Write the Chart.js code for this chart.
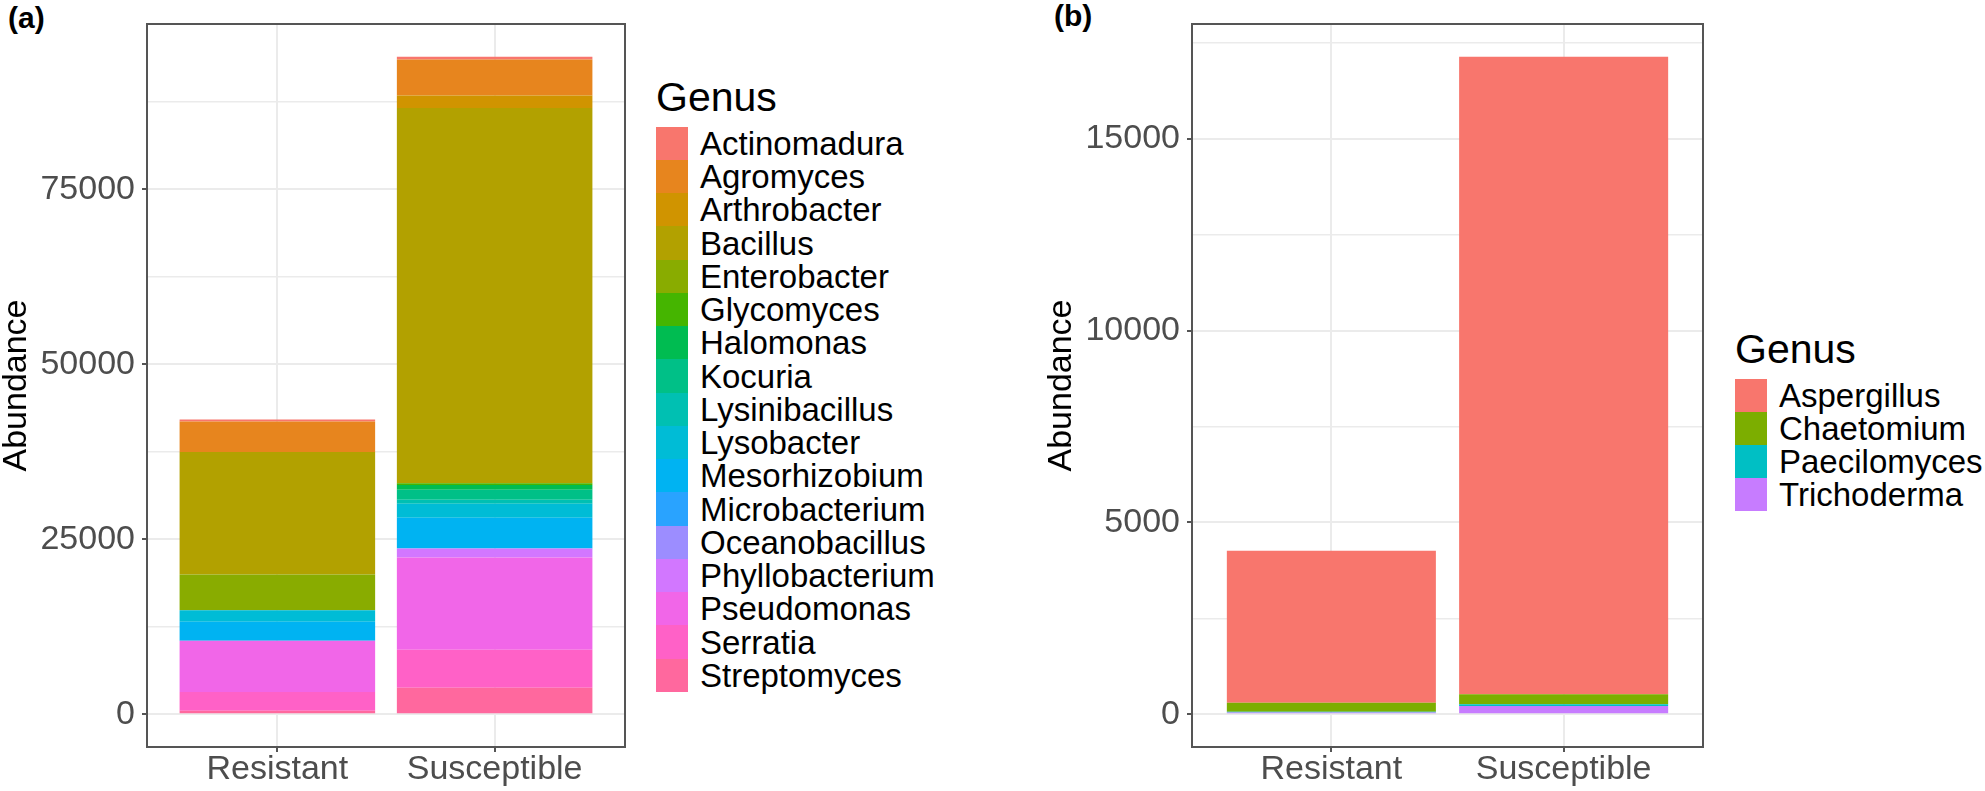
<!DOCTYPE html>
<html>
<head>
<meta charset="utf-8">
<script src="https://cdn.jsdelivr.net/npm/chart.js@4.4.0/dist/chart.umd.min.js"></script>
<style>
  body { margin: 0; background: #fff; font-family: "Liberation Sans", Arial, sans-serif; }
  #fig { position: relative; width: 1985px; height: 791px; overflow: hidden; }
  .panel { position: absolute; top: 0; }
  .tag { position: absolute; font-weight: bold; font-size: 30px; line-height: 30px; color: #000; }
  .legend { position: absolute; color: #000; }
  .legend .title { font-size: 41px; line-height: 41px; height: 41px; margin-bottom: 8.7px; }
  .legend .row { display: flex; align-items: center; font-size: 33px; line-height: 33px; white-space: nowrap; }
  .legend .key { width: 32px; height: 100%; margin-right: 12px; }
</style>
</head>
<body>
<div id="fig">
  <div class="tag" style="left:8px;top:3px">(a)</div>
  <div class="tag" style="left:1054px;top:1px">(b)</div>
  <canvas id="bactChart" class="panel" style="left:0px" width="627" height="791"></canvas>
  <canvas id="fungiChart" class="panel" style="left:1045px" width="660" height="791"></canvas>
  <div id="bactLegend" class="legend" style="left:656px;top:77px"></div>
  <div id="fungiLegend" class="legend" style="left:1735px;top:329px"></div>
</div>
<script>
// --- datos ---
const groups = ['Resistant', 'Susceptible'];

// (a) bacterias
const bactGenus = ['Actinomadura', 'Agromyces', 'Arthrobacter', 'Bacillus', 'Enterobacter', 'Glycomyces',
  'Halomonas', 'Kocuria', 'Lysinibacillus', 'Lysobacter', 'Mesorhizobium', 'Microbacterium',
  'Oceanobacillus', 'Phyllobacterium', 'Pseudomonas', 'Serratia', 'Streptomyces'];
const bactResistant   = [300, 4340, 0, 17520, 5090, 0, 0, 0, 0, 1660, 2730, 0, 0, 0, 7310, 2690, 470];
const bactSusceptible = [360, 5150, 1780, 53630, 0, 250, 700, 1410, 600, 1990, 4390, 0, 0, 1270, 13200, 5440, 3760];
const bactTicks = [0, 25000, 50000, 75000];
const bactMinor = [12500, 37500, 62500, 87500];

// (b) hongos
const fungiGenus = ['Aspergillus', 'Chaetomium', 'Paecilomyces', 'Trichoderma'];
const fungiResistant   = [3960, 240, 20, 40];
const fungiSusceptible = [16620, 260, 50, 210];
const fungiTicks = [0, 5000, 10000, 15000];
const fungiMinor = [2500, 7500, 12500, 17500];

Chart.defaults.font.family = '"Liberation Sans", Arial, sans-serif';

// paleta hue de ggplot (hcl, c=100, l=65)
function hcl(h, c, l) {
  const wu = 0.1978398, wv = 0.4683363;
  const hr = h * Math.PI / 180;
  const U = c * Math.cos(hr), V = c * Math.sin(hr);
  const Y = 100 * (l > 7.999592 ? Math.pow((l + 16) / 116, 3) : l / 903.3);
  const u = U / (13 * l) + wu, v = V / (13 * l) + wv;
  const X = 9 * Y * u / (4 * v);
  const Z = -X / 3 - 5 * Y + 3 * Y / v;
  const g = t => t > 0.00304 ? 1.055 * Math.pow(t, 1 / 2.4) - 0.055 : 12.92 * t;
  const rgb = [
    g((3.240479 * X - 1.537150 * Y - 0.498535 * Z) / 100),
    g((-0.969256 * X + 1.875992 * Y + 0.041556 * Z) / 100),
    g((0.055648 * X - 0.204043 * Y + 1.057311 * Z) / 100)
  ];
  return '#' + rgb.map(x => Math.round(255 * Math.min(1, Math.max(0, x))).toString(16).padStart(2, '0')).join('');
}
function huePal(n) {
  const out = [];
  for (let i = 0; i < n; i++) out.push(hcl(15 + 360 * i / n, 100, 65));
  return out;
}

// borde del panel (theme_bw)
const panelBorder = {
  id: 'panelBorder',
  afterDatasetsDraw(chart) {
    const { ctx, chartArea: a } = chart;
    ctx.save();
    ctx.strokeStyle = '#555555';
    ctx.lineWidth = 2;
    ctx.strokeRect(a.left, a.top, a.right - a.left, a.bottom - a.top);
    ctx.restore();
  }
};

function makeLegend(id, genus, colors, rowH) {
  const el = document.getElementById(id);
  let html = '<div class="title">Genus</div>';
  genus.forEach((g, i) => {
    html += `<div class="row" style="height:${rowH}px"><div class="key" style="background:${colors[i]}"></div>${g}</div>`;
  });
  el.innerHTML = html;
}

function stackedChart(canvasId, genus, resistant, susceptible, ticks, minor) {
  const colors = huePal(genus.length);
  const sum = arr => arr.reduce((s, v) => s + v, 0);
  const top = Math.max(sum(resistant), sum(susceptible));

  // ggplot apila el primer nivel arriba
  const datasets = genus.map((g, i) => ({
    label: g,
    data: [{ x: 1, y: resistant[i] }, { x: 2, y: susceptible[i] }],
    backgroundColor: colors[i],
    borderWidth: 0,
    categoryPercentage: 1,
    barPercentage: 0.9
  })).reverse();

  const allTicks = ticks.concat(minor).sort((a, b) => a - b);

  new Chart(document.getElementById(canvasId), {
    type: 'bar',
    data: { datasets },
    plugins: [panelBorder],
    options: {
      responsive: false,
      animation: false,
      layout: { padding: { top: 18, right: 2, left: 0, bottom: 0 } },
      plugins: { legend: { display: false }, tooltip: { enabled: false } },
      scales: {
        x: {
          type: 'linear', stacked: true, min: 0.4, max: 2.6, offset: false,
          afterBuildTicks: s => { s.ticks = groups.map((g, i) => ({ value: i + 1 })); },
          afterFit: s => { s.height = 44; },
          border: { display: false },
          grid: { offset: false, color: '#EBEBEB', lineWidth: 2, tickColor: '#555555', tickLength: 5, tickWidth: 2 },
          ticks: {
            callback: v => groups[v - 1],
            color: '#4D4D4D', font: { size: 34, lineHeight: 1 }, padding: 1,
            maxRotation: 0, autoSkip: false
          }
        },
        y: {
          stacked: true, min: -0.05 * top, max: 1.05 * top,
          afterBuildTicks: s => { s.ticks = allTicks.map(v => ({ value: v })); },
          afterFit: s => { s.width = 147; },
          border: { display: false },
          grid: {
            color: '#EBEBEB',
            lineWidth: c => ticks.includes(c.tick.value) ? 2 : 1.4,
            tickColor: c => ticks.includes(c.tick.value) ? '#555555' : 'rgba(0,0,0,0)',
            tickLength: 5, tickWidth: 2
          },
          ticks: {
            callback: v => ticks.includes(v) ? String(v) : '',
            color: '#4D4D4D', font: { size: 34, lineHeight: 1 }, padding: 7
          },
          title: {
            display: true, text: 'Abundance', color: '#000',
            font: { size: 34, lineHeight: 1 }, padding: { top: 0, bottom: 0 }
          }
        }
      }
    }
  });
  return colors;
}

const bactColors = stackedChart('bactChart', bactGenus, bactResistant, bactSusceptible, bactTicks, bactMinor);
makeLegend('bactLegend', bactGenus, bactColors, 33.25);

const fungiColors = stackedChart('fungiChart', fungiGenus, fungiResistant, fungiSusceptible, fungiTicks, fungiMinor);
makeLegend('fungiLegend', fungiGenus, fungiColors, 33);
</script>
</body>
</html>
